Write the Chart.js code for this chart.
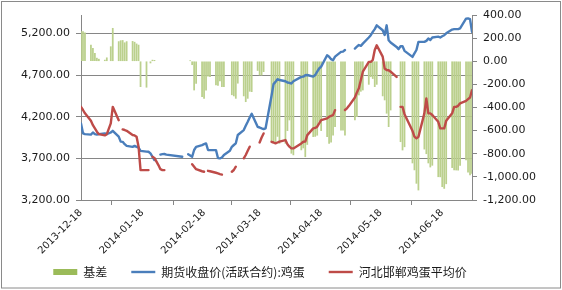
<!DOCTYPE html>
<html>
<head>
<meta charset="utf-8">
<script src="https://cdn.jsdelivr.net/npm/chart.js@4.4.1/dist/chart.umd.min.js"></script>
<style>
  html, body { margin: 0; padding: 0; background: #fff; }
  #wrap { width: 562px; height: 290px; }
</style>
</head>
<body>
<div id="wrap"><canvas id="chart" width="562" height="290"></canvas></div>
<script>
// trading days (plus a few spot-only days)
const dates = [
  '2013-12-18','2013-12-19','2013-12-20','2013-12-23','2013-12-24','2013-12-25','2013-12-26','2013-12-27','2013-12-30','2013-12-31',
  '2014-01-02','2014-01-03','2014-01-06','2014-01-07','2014-01-08','2014-01-09','2014-01-10','2014-01-13','2014-01-14','2014-01-15','2014-01-16','2014-01-17','2014-01-20','2014-01-21','2014-01-22','2014-01-23','2014-01-24','2014-01-26','2014-01-27','2014-01-28','2014-01-29','2014-01-30',
  '2014-02-07','2014-02-08','2014-02-10','2014-02-11','2014-02-12','2014-02-13','2014-02-14','2014-02-17','2014-02-18','2014-02-19','2014-02-20','2014-02-21','2014-02-24','2014-02-25','2014-02-26','2014-02-27','2014-02-28',
  '2014-03-03','2014-03-04','2014-03-05','2014-03-06','2014-03-07','2014-03-10','2014-03-11','2014-03-12','2014-03-13','2014-03-14','2014-03-17','2014-03-18','2014-03-19','2014-03-20','2014-03-21','2014-03-24','2014-03-25','2014-03-26','2014-03-27','2014-03-28','2014-03-31',
  '2014-04-01','2014-04-02','2014-04-03','2014-04-04','2014-04-08','2014-04-09','2014-04-10','2014-04-11','2014-04-14','2014-04-15','2014-04-16','2014-04-17','2014-04-18','2014-04-21','2014-04-22','2014-04-23','2014-04-24','2014-04-25','2014-04-28','2014-04-29','2014-04-30',
  '2014-05-01','2014-05-02','2014-05-05','2014-05-06','2014-05-07','2014-05-08','2014-05-09','2014-05-12','2014-05-13','2014-05-14','2014-05-15','2014-05-16','2014-05-19','2014-05-20','2014-05-21','2014-05-22','2014-05-23','2014-05-26','2014-05-27','2014-05-28','2014-05-29','2014-05-30',
  '2014-06-03','2014-06-04','2014-06-05','2014-06-06','2014-06-09','2014-06-10','2014-06-11','2014-06-12','2014-06-13','2014-06-16','2014-06-17','2014-06-18','2014-06-19','2014-06-20','2014-06-23','2014-06-24','2014-06-25','2014-06-26','2014-06-27','2014-06-30',
  '2014-07-01','2014-07-02','2014-07-03'
];

// 基差 (right axis)
const basis = [
  256, 256, 245, 140, 112, 69, 27, 18, 10, 30,
  126, 285, 170, 178, 180, 160, 170, 172, 165, 150, 140, -220, -225, null, -15, 10, 8, null, null, null, null, null,
  null, null, null, 5, -30, -249, -191, -307, -321, -250, -130, -134, -205, -210, -170, -220, -220,
  null, -290, -300, -321, -190, -300, -350, -321, -260, -263, -80, -119, -120, -90, null, -690, -700, -710, -650, -710, -710,
  -600, -508, -796, -810, -767, -750, -826, -720, -652, -650, -640, -520, -600, -652, -710, -700, -640, -566, -595, -595, -640,
  null, null, -508, -480, -292, -260, -249, -200, -134, -150, -220, -200, -300, -335, -450, -566, -422, null, null, -696, -768, -740,
  -880, -940, -1056, -1114, -760, -800, -880, -915, -900, -999, -1000, -1085, -1100, -1060, -920, -940, -941, -941, -900, -854,
  -960, -984, -970
];

// 期货收盘价(活跃合约):鸡蛋 (left axis)
const futures = [
  4119, 4000, 3990, 3985, 4010, 3990, 3985, 3990, 4000, 3990,
  4010, 4030, 3960, 3900, 3898, 3870, 3850, 3838, 3850, 3838, 3830, 3790, 3780, 3779, 3760, 3719, 3680, null, 3745, 3750, 3752, 3745,
  3719, null, 3750, 3735, 3719, 3800, 3838, 3859, 3870, 3879, 3800, 3799, 3799, 3703, 3700, 3710, 3740,
  3790, 3838, 3860, 3880, 3980, 4039, 4090, 4138, 4190, 4235, 4078, 4070, 4059, 4050, 4060, 4450, 4590, 4617, 4650, 4640, 4625,
  4610, 4605, 4598, 4625, 4677, 4680, 4697, 4700, 4680, 4700, 4740, 4778, 4800, 4937, 4920, 4890, 4877, 4920, 4977, 4980, 5000,
  null, null, 5017, 5040, 5060, 5050, 5077, 5150, 5177, 5217, 5250, 5296, 5237, 5180, 5296, 5117, 5090, 5037, 5010, 5045, 5045, 4990,
  4917, 4960, 5000, 5097, 5097, 5110, 5137, 5120, 5150, 5160, 5150, 5165, 5177, 5200, 5245, 5250, 5250, 5250, 5260, 5376,
  5380, 5370, 5217
];

// 河北邯郸鸡蛋平均价 (left axis)
const spot = [
  4318, 4280, 4240, 4150, 4098, 4060, 4020, 3990, 3975, 3990,
  4119, 4318, 4158, null, 4047, 4040, 4030, 3980, 3975, 3960, 3840, 3559, 3559, 3559, null, 3719, 3705, 3619, 3570, 3559, 3559, null,
  null, null, null, null, 3630, 3600, 3570, 3545, 3539, null, 3550, 3545, 3527, 3520, 3511, 3505, null,
  null, 3539, 3560, 3600, null, 3700, 3740, 3790, 3840, null, null, 3890, 3950, 3999, null, 3898, 3890, 3880, 3890, 3900, 3919,
  3870, 3840, 3819, 3819, 3879, 3899, 3900, 3979, 4059, 4065, 4080, 4120, 4158, 4180, 4199, 4210, 4218, 4278, null, null, 4280,
  4300, 4330, 4430, 4490, 4540, 4640, 4740, 4857, 4857, 4880, 5000, 5057, 4920, 4778, 4760, 4757, 4740, 4677, null, 4318, 4318, 4230,
  4030, 3960, 3940, 3958, 4240, 4418, 4239, 4239, 4220, 4138, 4059, 4059, 4060, 4150, 4240, 4318, 4318, 4330, 4360, 4390,
  4410, 4430, 4518
];

const tickDates = ['2013-12-18', '2014-01-18', '2014-02-18', '2014-03-18', '2014-04-18', '2014-05-18', '2014-06-18'];
const leftTicks = [3200, 3700, 4200, 4700, 5200];
const seriesNames = ['基差', '期货收盘价(活跃合约):鸡蛋', '河北邯郸鸡蛋平均价'];
const seriesColors = ['#9bbb59', '#4a7ebb', '#be4b48'];

// days since the first date, used as the x value
const t0 = Date.parse(dates[0]);
const dayOf = s => Math.round((Date.parse(s) - t0) / 86400000);
const xDays = dates.map(dayOf);
const tickDays = tickDates.map(dayOf);

const fmt = v => {
  const s = Math.abs(v).toFixed(2).replace(/\B(?=(\d{3})+(?!\d))/g, ',');
  return (v < 0 ? '-' : '') + s;
};

const axisGray = '#868686';

// tick labels may run past the (narrow) axis boxes, so don't clip them
const noLabelClip = s => { s._computeLabelArea = () => undefined; };

const framePlugin = {
  id: 'frame',
  beforeDraw(chart) {
    const c = chart.ctx;
    c.save();
    c.fillStyle = '#fff';
    c.fillRect(0, 0, chart.width, chart.height);
    c.restore();
  },
  afterDraw(chart) {
    const c = chart.ctx;
    c.save();
    c.strokeStyle = '#8a8a8a';
    c.lineWidth = 1;
    c.strokeRect(1.5, 1.5, chart.width - 3, chart.height - 3.5);
    c.restore();
  }
};

Chart.defaults.font.family = '"DejaVu Sans", sans-serif';
Chart.defaults.font.size = 11;
Chart.defaults.color = '#1a1a1a';

new Chart(document.getElementById('chart'), {
  type: 'bar',
  data: {
    labels: xDays,
    datasets: [
      {
        type: 'bar',
        label: seriesNames[0],
        data: basis,
        yAxisID: 'yR',
        backgroundColor: '#bbd08d',
        barThickness: 1.1,
        order: 2
      },
      {
        type: 'line',
        label: seriesNames[1],
        data: futures,
        yAxisID: 'yL',
        borderColor: seriesColors[1],
        borderWidth: 2.4,
        pointRadius: 0,
        tension: 0,
        spanGaps: false,
        borderJoinStyle: 'round',
        borderCapStyle: 'round',
        order: 1
      },
      {
        type: 'line',
        label: seriesNames[2],
        data: spot,
        yAxisID: 'yL',
        borderColor: seriesColors[2],
        borderWidth: 2.4,
        pointRadius: 0,
        tension: 0,
        spanGaps: false,
        borderJoinStyle: 'round',
        borderCapStyle: 'round',
        order: 0
      }
    ]
  },
  options: {
    responsive: false,
    animation: false,
    layout: { padding: { top: 15, right: 42, bottom: 2, left: 0 } },
    plugins: {
      tooltip: { enabled: false },
      legend: {
        position: 'bottom',
        labels: {
          usePointStyle: true,
          pointStyleWidth: 24,
          boxHeight: 6,
          padding: 24,
          color: '#1a1a1a',
          font: { family: '"Noto Sans CJK SC", sans-serif', size: 12 },
          generateLabels: chart => chart.data.datasets.map((ds, i) => ({
            text: ds.label,
            fillStyle: seriesColors[i],
            strokeStyle: seriesColors[i],
            lineWidth: ds.type === 'line' ? 2.4 : 0,
            pointStyle: ds.type === 'line' ? 'line' : 'rect',
            fontColor: '#1a1a1a',
            hidden: false,
            datasetIndex: i
          }))
        }
      }
    },
    scales: {
      x: {
        type: 'linear',
        min: 0,
        max: xDays[xDays.length - 1],
        offset: false,
        afterBuildTicks: s => { s.ticks = tickDays.map(v => ({ value: v })); },
        afterFit: s => { s.height = 42; noLabelClip(s); },
        grid: { drawOnChartArea: false, tickLength: 5, color: axisGray },
        border: { color: axisGray },
        ticks: {
          autoSkip: false,
          minRotation: 45,
          maxRotation: 45,
          padding: 2,
          font: { size: 10 },
          callback: (v, i) => tickDates[i]
        }
      },
      yL: {
        position: 'left',
        min: 3200,
        max: 5420,
        afterBuildTicks: s => { s.ticks = leftTicks.map(v => ({ value: v })); },
        afterFit: s => { s.width = 81; },
        grid: { color: axisGray, tickLength: 5 },
        border: { color: axisGray },
        ticks: { padding: 6, callback: v => fmt(v) }
      },
      yR: {
        position: 'right',
        min: -1200,
        max: 400,
        afterFit: s => { s.width = 48; noLabelClip(s); },
        grid: { drawOnChartArea: false, tickLength: 5, color: axisGray },
        border: { color: axisGray },
        ticks: { stepSize: 200, padding: 6, callback: v => fmt(v) }
      }
    }
  },
  plugins: [framePlugin]
});
</script>
</body>
</html>
